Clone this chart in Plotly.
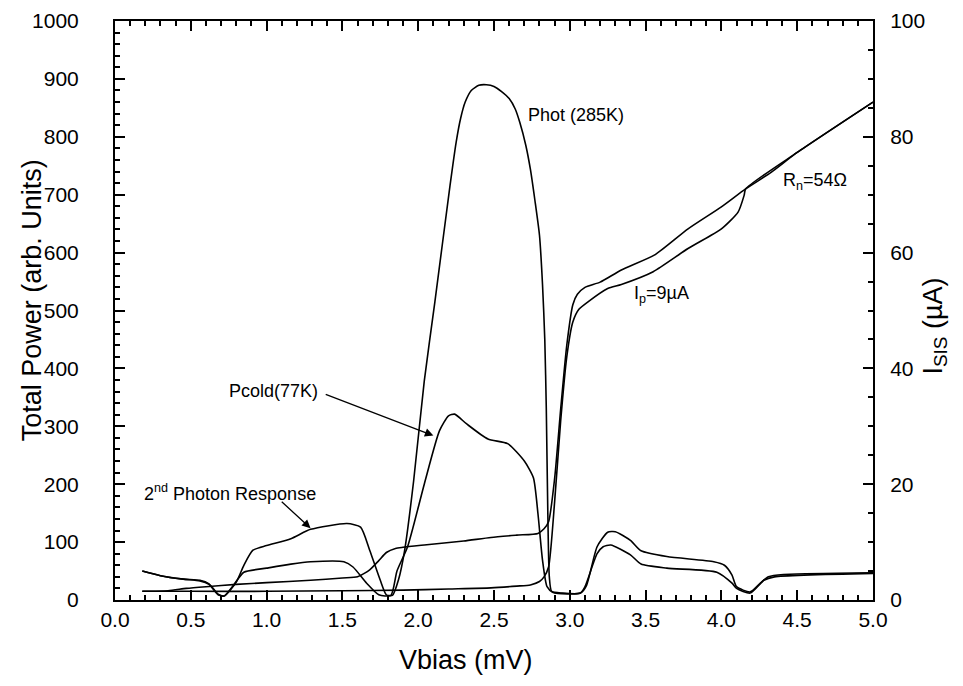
import plotly.graph_objects as go

# ---- data ----
v_hot = [0.18, 0.30, 0.45, 0.56, 0.62, 0.68, 0.72, 0.80, 0.85, 0.91, 1.00, 1.16, 1.29, 1.53, 1.62,
         1.68, 1.75, 1.79, 1.83, 1.87, 1.91, 1.97, 2.04, 2.11, 2.21, 2.25, 2.28, 2.31, 2.35, 2.40,
         2.45, 2.50, 2.55, 2.60, 2.64, 2.67, 2.71, 2.74, 2.77, 2.80, 2.82, 2.835, 2.845, 2.855,
         2.865, 2.88, 2.95, 3.07, 3.11, 3.18, 3.25, 3.30, 3.40, 3.47,
         3.64, 3.95, 4.02, 4.07, 4.10, 4.19, 4.26, 4.31, 4.41, 5.00]
p_hot = [50, 42, 36, 34, 28, 10, 7, 31, 60, 86, 94, 106, 122, 132, 126,
         86, 34, 9, 8, 35, 85, 206, 378, 515, 716, 790, 832, 860, 880, 889,
         890, 887, 878, 866, 848, 825, 785, 744, 690, 630, 545, 450, 330, 150,
         40, 15, 12, 12, 25, 92, 117, 118, 103, 85,
         75, 66, 60, 43, 23, 14, 30, 40, 44, 47]

v_cold = [0.18, 0.30, 0.45, 0.56, 0.62, 0.68, 0.72, 0.78, 0.85, 1.00, 1.16, 1.29, 1.51, 1.57, 1.66,
          1.74, 1.82, 1.86, 1.93, 2.04, 2.14, 2.20, 2.24, 2.32, 2.46, 2.59, 2.70, 2.76, 2.79, 2.82,
          2.85, 2.89, 3.07, 3.10, 3.18, 3.22, 3.27, 3.40, 3.47, 3.64, 3.97, 4.07, 4.10, 4.19, 4.28,
          4.35, 5.00]
p_cold = [50, 42, 36, 33, 27, 9, 7, 25, 48, 55, 62, 66, 66, 57, 29,
          9, 8, 50, 92, 200, 292, 318, 321, 304, 278, 270, 240, 211, 149, 69,
          23, 13, 12, 23, 80, 92, 95, 78, 62, 55, 48, 29, 20, 12, 34,
          40, 46]

v_iv0 = [0.18, 0.5, 1.0, 1.5, 1.9, 2.2, 2.48, 2.65, 2.74, 2.80, 2.83, 2.86, 2.90, 2.94, 2.98,
         3.02, 3.06, 3.12, 3.25, 3.34, 3.55, 3.78, 4.00, 4.11, 4.15, 4.16, 4.50, 5.00]
i_iv0 = [1.5, 1.5, 1.5, 1.6, 1.7, 1.9, 2.1, 2.4, 2.6, 3.2, 4.0, 5.7, 17, 31, 42,
         48, 50.2, 51.5, 53.8, 54.5, 56.7, 60.7, 64.1, 67.0, 69.9, 71.0, 77.3, 86.0]

v_iv1 = [0.18, 0.35, 0.47, 0.6, 0.8, 1.0, 1.29, 1.5, 1.6, 1.68, 1.74, 1.79, 1.85, 1.9, 2.04,
         2.3, 2.48, 2.65, 2.79, 2.83, 2.86, 2.90, 2.94, 2.98, 3.02, 3.05, 3.10, 3.20, 3.34, 3.56,
         3.78, 4.00, 4.16, 4.33, 4.50, 5.00]
i_iv1 = [1.5, 1.6, 2.0, 2.3, 2.7, 3.0, 3.4, 3.8, 4.0, 5.2, 6.8, 8.2, 8.9, 9.1, 9.5,
         10.2, 10.8, 11.2, 11.5, 12.3, 13.5, 21, 33, 44, 51, 52.8, 54.0, 54.9, 57.0, 59.6,
         64.1, 67.9, 71.0, 73.9, 77.3, 86.0]

FONT = "Liberation Sans, Arial, sans-serif"
line = dict(color="black", width=1.6, shape="spline", smoothing=0.6)

fig = go.Figure()
fig.add_trace(go.Scatter(x=v_hot, y=p_hot, mode="lines", line=line, name="Phot (285K)"))
fig.add_trace(go.Scatter(x=v_cold, y=p_cold, mode="lines", line=line, name="Pcold(77K)"))
fig.add_trace(go.Scatter(x=v_iv0, y=i_iv0, mode="lines", line=line, yaxis="y2", name="unpumped"))
fig.add_trace(go.Scatter(x=v_iv1, y=i_iv1, mode="lines", line=line, yaxis="y2", name="pumped"))

lab = dict(family=FONT, size=18, color="black")
ann = [
    dict(x=2.71, y=838, text="Phot (285K)", showarrow=False, xanchor="left", yanchor="middle"),
    dict(x=0.74, y=361, text="Pcold(77K)", showarrow=False, xanchor="left", yanchor="middle"),
    dict(x=0.18, y=186, text="2<sup>nd</sup> Photon Response", showarrow=False,
         xanchor="left", yanchor="middle"),
    dict(x=3.41, y=527, text="I<sub>p</sub>=9µA", showarrow=False, xanchor="left", yanchor="middle"),
    dict(x=4.39, y=722, text="R<sub>n</sub>=54Ω", showarrow=False, xanchor="left", yanchor="middle"),
    # arrows
    dict(x=2.10, y=284, ax=1.38, ay=356, axref="x", ayref="y", text="", showarrow=True,
         arrowhead=2, arrowsize=1.3, arrowwidth=1.3, arrowcolor="black"),
    dict(x=1.29, y=124, ax=1.09, ay=172, axref="x", ayref="y", text="", showarrow=True,
         arrowhead=2, arrowsize=1.3, arrowwidth=1.3, arrowcolor="black"),
]
for a in ann:
    a["font"] = lab
    a["xref"] = "x"
    a["yref"] = "y"

# axis titles as paper annotations for exact placement
TF = dict(family=FONT, size=27, color="black")
ann += [
    dict(xref="paper", yref="paper", x=-0.11, y=0.517, text="Total Power (arb. Units)",
         textangle=-90, showarrow=False, font=TF, xanchor="center", yanchor="middle"),
    dict(xref="paper", yref="paper", x=0.463, y=-0.103, text="Vbias (mV)",
         showarrow=False, font=TF, xanchor="center", yanchor="middle"),
    dict(xref="paper", yref="paper", x=1.082, y=0.4725, text="I<sub>SIS</sub> (µA)",
         textangle=-90, showarrow=False, font=TF, xanchor="center", yanchor="middle"),
]

common = dict(ticks="inside", ticklen=10, tickwidth=1.5, tickcolor="black", showline=True,
              linecolor="black", linewidth=2, showgrid=False, zeroline=False,
              automargin=False, ticklabeloverflow="allow",
              tickfont=dict(size=21, family=FONT, color="black"))

fig.update_layout(
    width=963, height=686,
    # the page body adds an 8px offset, compensated here
    margin=dict(l=107, r=98, t=13, b=94),
    paper_bgcolor="white", plot_bgcolor="white",
    showlegend=False,
    font=dict(family=FONT, size=16, color="black"),
    annotations=ann,
    xaxis=dict(range=[0, 5], dtick=0.5, tickformat=".1f", mirror="ticks",
               minor=dict(dtick=0.1, ticks="inside", ticklen=5, tickcolor="black", showgrid=False),
               **common),
    yaxis=dict(range=[0, 1000], dtick=100, ticklabelstandoff=30,
               minor=dict(dtick=20, ticks="inside", ticklen=5, tickcolor="black", showgrid=False),
               **common),
    yaxis2=dict(range=[0, 100], dtick=20, overlaying="y", side="right", ticklabelstandoff=11,
                minor=dict(dtick=5, ticks="inside", ticklen=5, tickcolor="black", showgrid=False),
                **common),
)

fig.write_html("out.html")
